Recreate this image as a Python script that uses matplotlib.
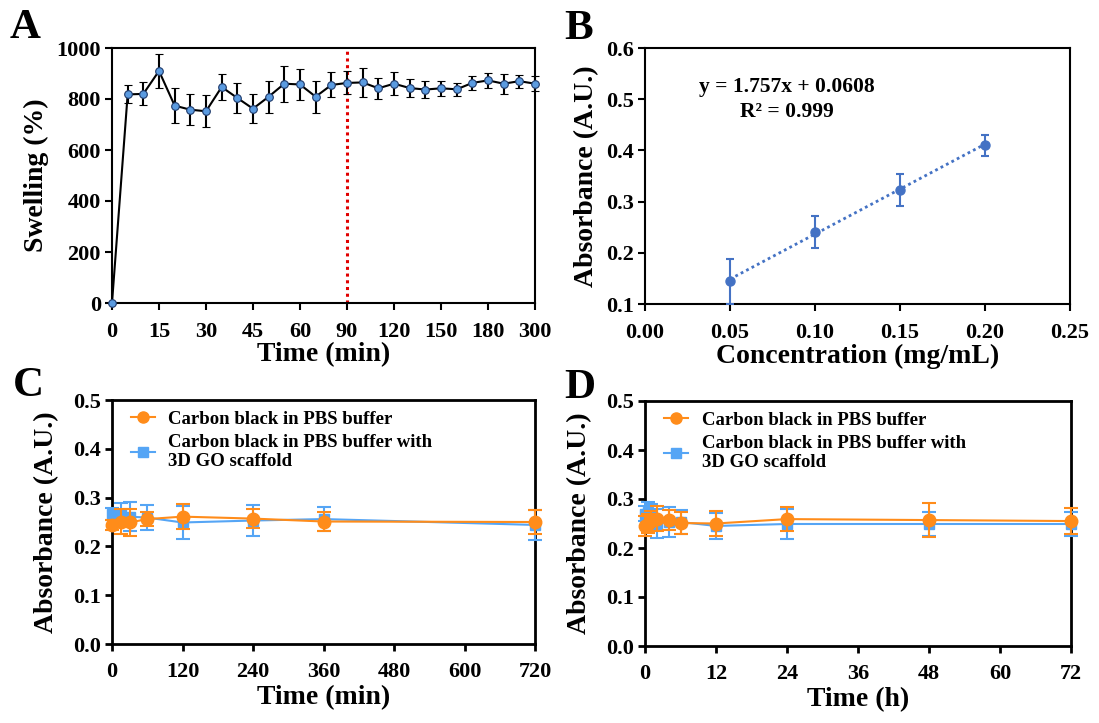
import matplotlib
matplotlib.use('Agg')
import matplotlib.pyplot as plt
from matplotlib.lines import Line2D
import numpy as np

plt.rcParams['font.family'] = ['Liberation Serif', 'DejaVu Serif']
plt.rcParams['font.weight'] = 'bold'
plt.rcParams['axes.labelweight'] = 'bold'

# Panel A: swelling over time (categorical time axis)
tiempos_a = [0, 5, 10, 15, 20, 25, 30, 35, 40, 45, 50, 55, 60, 70, 80, 90,
             100, 110, 120, 130, 140, 150, 160, 170, 180, 210, 240, 300]
swelling = [0, 818, 820, 910, 774, 758, 752, 847, 804, 762, 809, 860, 857, 809,
            855, 863, 865, 842, 860, 843, 837, 842, 838, 863, 873, 860, 870, 860]
swelling_err = [0, 35, 45, 68, 70, 60, 62, 50, 58, 57, 62, 71, 59, 63, 49, 45,
                56, 42, 45, 37, 33, 30, 25, 28, 30, 40, 25, 30]
ticks_a = [0, 15, 30, 45, 60, 90, 120, 150, 180, 300]
tiempo_equilibrio = 90

# Panel B: calibration curve
conc = [0.05, 0.10, 0.15, 0.20]
abs_cal = [0.144, 0.241, 0.323, 0.410]
abs_cal_err = [0.044, 0.031, 0.031, 0.021]
pendiente = 1.757
intercepto = 0.0608

# Panel C: stability in minutes
tiempos_c = [0, 15, 30, 60, 120, 240, 360, 720]
pbs_c = [0.244, 0.251, 0.249, 0.256, 0.261, 0.257, 0.251, 0.250]
pbs_c_err = [0.010, 0.025, 0.027, 0.015, 0.025, 0.020, 0.020, 0.025]
go_c = [0.266, 0.266, 0.261, 0.259, 0.249, 0.253, 0.256, 0.244]
go_c_err = [0.012, 0.022, 0.030, 0.025, 0.033, 0.032, 0.025, 0.030]

# Panel D: stability in hours
tiempos_d = [0, 0.5, 1, 2, 4, 6, 12, 24, 48, 72]
pbs_d = [0.245, 0.250, 0.255, 0.260, 0.257, 0.251, 0.250, 0.259, 0.257, 0.255]
pbs_d_err = [0.020, 0.020, 0.020, 0.025, 0.020, 0.022, 0.025, 0.025, 0.035, 0.027]
go_d = [0.270, 0.274, 0.264, 0.250, 0.253, 0.253, 0.245, 0.249, 0.249, 0.249]
go_d_err = [0.015, 0.020, 0.025, 0.030, 0.030, 0.025, 0.027, 0.030, 0.025, 0.025]

etiqueta_pbs = 'Carbon black in PBS buffer'
etiqueta_go = 'Carbon black in PBS buffer with\n3D GO scaffold'

NARANJA = '#FF8C1A'
AZUL_CLARO = '#55A5F5'
AZUL_B = '#4472C4'

W, H = 1099, 723
fig = plt.figure(figsize=(W / 100, H / 100), dpi=100)


def caja(l, r, t, b):
    return fig.add_axes([l / W, 1 - b / H, (r - l) / W, (b - t) / H])


TICK_FS = 16
LABEL_FS = 20


def estilo(ax, lw, xpad):
    for s in ax.spines.values():
        s.set_linewidth(lw)
    ax.tick_params(direction='out', length=5, width=lw, labelsize=TICK_FS, pad=3)
    ax.tick_params(axis='x', pad=xpad)
    for t in ax.get_xticklabels() + ax.get_yticklabels():
        t.set_fontweight('bold')


# ---------- A ----------
ax1 = caja(112, 535, 48, 303)
idx = np.arange(len(tiempos_a))
ax1.errorbar(idx, swelling, yerr=swelling_err, color='black', lw=1.5,
             elinewidth=1.5, capsize=3, capthick=1.5, marker='o', ms=5.5,
             mfc='#5B9BE0', mec='#1F3A6B', mew=0.8, clip_on=False, zorder=3)
pos_eq = tiempos_a.index(tiempo_equilibrio)
ax1.axvline(pos_eq, color='#E00000', ls=(0, (1, 1.2)), lw=2.2, zorder=2)
ax1.set_xlim(0, len(tiempos_a) - 1)
ax1.set_ylim(0, 1000)
ax1.set_xticks([tiempos_a.index(t) for t in ticks_a])
ax1.set_xticklabels([str(t) for t in ticks_a])
ax1.set_yticks(np.arange(0, 1001, 200))
ax1.set_xlabel('Time (min)', fontsize=LABEL_FS, labelpad=0)
ax1.set_ylabel('Swelling (%)', fontsize=LABEL_FS, labelpad=5)
estilo(ax1, 1.5, 9)

# ---------- B ----------
ax2 = caja(645, 1070, 48, 304)
ax2.errorbar(conc, abs_cal, yerr=abs_cal_err, color=AZUL_B, ls='none',
             elinewidth=1.5, capsize=3, capthick=1.5, marker='o', ms=6.5,
             zorder=3)
xf = np.array([conc[0], conc[-1]])
ax2.plot(xf, pendiente * xf + intercepto, color=AZUL_B, ls=(0, (1, 1.2)), lw=2)
ax2.set_xlim(0, 0.25)
ax2.set_ylim(0.1, 0.6)
ax2.set_xticks(np.arange(0, 0.251, 0.05))
ax2.set_xticklabels(['0.00', '0.05', '0.10', '0.15', '0.20', '0.25'])
ax2.set_yticks(np.arange(0.1, 0.61, 0.1))
ax2.set_yticklabels(['0.1', '0.2', '0.3', '0.4', '0.5', '0.6'])
ax2.set_xlabel('Concentration (mg/mL)', fontsize=LABEL_FS, labelpad=0)
ax2.set_ylabel('Absorbance (A.U.)', fontsize=LABEL_FS, labelpad=5)
ax2.text(0.0835, 0.524, f'y = {pendiente}x + {intercepto}', fontsize=15.5,
         fontweight='bold', ha='center', va='center')
ax2.text(0.0835, 0.475, 'R\u00b2 = 0.999', fontsize=15.5, fontweight='bold',
         ha='center', va='center')
estilo(ax2, 1.5, 9)


# ---------- C and D ----------
def panel_estabilidad(ax, t, pbs, pbs_err, go, go_err, ticks, xlabel):
    ax.errorbar(t, go, yerr=go_err, color=AZUL_CLARO, lw=1.5, elinewidth=1.5,
                capsize=5, capthick=1.5, marker='s', ms=7, clip_on=False,
                zorder=3)
    ax.errorbar(t, pbs, yerr=pbs_err, color=NARANJA, lw=1.5, elinewidth=1.5,
                capsize=5, capthick=1.5, marker='o', ms=9, clip_on=False,
                zorder=4)
    ax.set_xlim(ticks[0], ticks[-1])
    ax.set_ylim(0, 0.5)
    ax.set_xticks(ticks)
    ax.set_yticks(np.arange(0, 0.51, 0.1))
    ax.set_yticklabels(['0.0', '0.1', '0.2', '0.3', '0.4', '0.5'])
    ax.set_xlabel(xlabel, fontsize=LABEL_FS, labelpad=2)
    ax.set_ylabel('Absorbance (A.U.)', fontsize=LABEL_FS, labelpad=10)
    h = [Line2D([], [], color=NARANJA, lw=1.5, marker='o', ms=8),
         Line2D([], [], color=AZUL_CLARO, lw=1.5, marker='s', ms=6.5)]
    ax.legend(h, [etiqueta_pbs, etiqueta_go], loc='upper left', frameon=False,
              bbox_to_anchor=(0.005, 1.025), handlelength=1.3,
              handletextpad=0.7, labelspacing=0.3,
              prop={'size': 13.5, 'weight': 'bold'})
    estilo(ax, 2, 8)


ax3 = caja(112, 535, 400, 644)
panel_estabilidad(ax3, tiempos_c, pbs_c, pbs_c_err, go_c, go_c_err,
                  np.arange(0, 721, 120), 'Time (min)')

ax4 = caja(645, 1071, 401, 646)
panel_estabilidad(ax4, tiempos_d, pbs_d, pbs_d_err, go_d, go_d_err,
                  np.arange(0, 73, 12), 'Time (h)')

# panel letters
for letra, x, y in [('A', 10, 28), ('B', 564, 29), ('C', 13, 386), ('D', 564, 388)]:
    fig.text(x / W, 1 - y / H, letra, fontsize=31, fontweight='bold',
             ha='left', va='center')

fig.savefig('out.png', dpi=100)
